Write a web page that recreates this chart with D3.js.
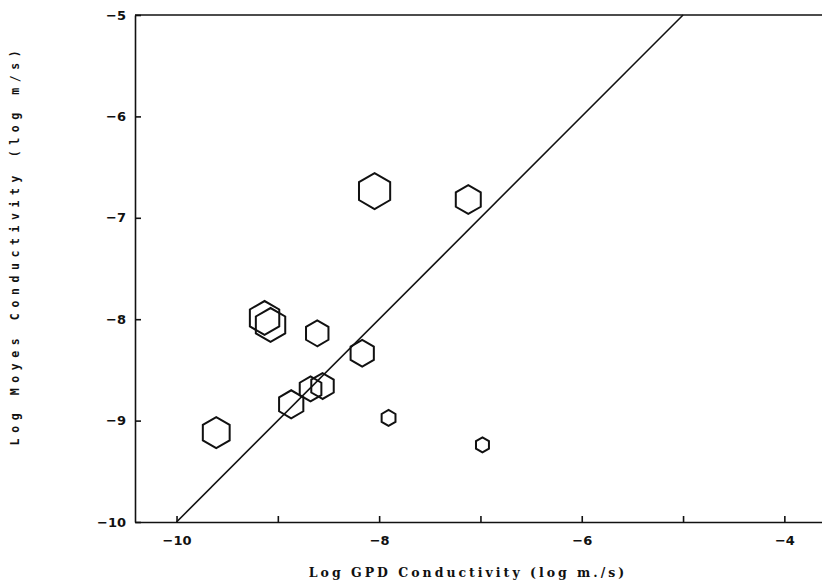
<!DOCTYPE html>
<html>
<head>
<meta charset="utf-8">
<script src="https://cdn.jsdelivr.net/npm/d3@7"></script>
<style>
  body { margin: 0; background: #fff; }
  svg { display: block; }
  .axis text { font-family: "DejaVu Sans", sans-serif; font-weight: bold; font-size: 13px; fill: #111; }
  .axis path, .axis line { stroke: #111; stroke-width: 1.6; }
  .title { font-family: "DejaVu Sans Mono", monospace; font-weight: bold; font-size: 11.5px; fill: #111; }
</style>
</head>
<body>
<svg id="chart" width="822" height="588"></svg>
<script>
// Log GPD conductivity (x) vs log Moyes conductivity (y), hexagon size = weight
const gpd    = [-8.045, -7.12, -9.131, -9.072, -8.611, -8.167, -8.677, -8.559, -8.868, -9.608, -7.907, -6.98];
const moyes  = [-6.736, -6.82, -7.988, -8.057, -8.139, -8.336, -8.688, -8.659, -8.839, -9.119, -8.974, -9.24];
const weight = [81, 52, 72, 72, 42, 45, 39, 42, 49, 60, 16, 14];

const xTicks = [-10, -9, -8, -7, -6, -5, -4];
const yTicks = [-10, -9, -8, -7, -6, -5];
const lineEnds = [-10, -5]; // 1:1 line

const svg = d3.select("#chart");
const plotLeft = 135, plotTop = 15, plotBottom = 522;

const x = d3.scaleLinear().domain([-10.41, -3.5]).range([plotLeft, 835]);
const y = d3.scaleLinear().domain([-10, -5]).range([plotBottom, plotTop]);
const r = d3.scaleSqrt().domain([0, 100]).range([0, 20]);

const fmt = d => (d < 0 ? "\u2212" : "") + Math.abs(d);

// x axis (ticks point inward)
svg.append("g")
  .attr("class", "axis")
  .attr("transform", `translate(0,${plotBottom})`)
  .call(d3.axisBottom(x).tickValues(xTicks).tickSizeInner(-6).tickSizeOuter(0).tickPadding(14)
    .tickFormat(d => d % 2 === 0 ? fmt(d) : ""));

// y axis
svg.append("g")
  .attr("class", "axis")
  .attr("transform", `translate(${plotLeft},0)`)
  .call(d3.axisLeft(y).tickValues(yTicks).tickSizeInner(-6).tickSizeOuter(0).tickPadding(9)
    .tickFormat(fmt));

// top frame line
svg.append("line")
  .attr("x1", plotLeft).attr("x2", 822)
  .attr("y1", plotTop).attr("y2", plotTop)
  .attr("stroke", "#111").attr("stroke-width", 1.6);

// 1:1 line
svg.append("line")
  .attr("x1", x(lineEnds[0])).attr("y1", y(lineEnds[0]))
  .attr("x2", x(lineEnds[1])).attr("y2", y(lineEnds[1]))
  .attr("stroke", "#111").attr("stroke-width", 1.6);

// hexagons, pointy top
function hexPath(rad) {
  const pts = d3.range(6).map(i => {
    const a = Math.PI / 2 + i * Math.PI / 3;
    return [rad * Math.cos(a), rad * Math.sin(a)];
  });
  return "M" + pts.map(p => p.join(",")).join("L") + "Z";
}

svg.append("g")
  .selectAll("path")
  .data(gpd.map((d, i) => ({ x: d, y: moyes[i], w: weight[i] })))
  .enter()
  .append("path")
  .attr("transform", d => `translate(${x(d.x)},${y(d.y)})`)
  .attr("d", d => hexPath(r(d.w)))
  .attr("fill", "none")
  .attr("stroke", "#111")
  .attr("stroke-width", 2);

// axis titles
svg.append("text")
  .attr("class", "title")
  .attr("x", 468).attr("y", 577)
  .attr("text-anchor", "middle")
  .style("letter-spacing", "3px")
  .style("font-family", "'DejaVu Serif', serif")
  .style("font-size", "12.5px")
  .text("Log GPD Conductivity (log m./s)");

svg.append("text")
  .attr("class", "title")
  .attr("transform", "translate(19,245) rotate(-90)")
  .attr("text-anchor", "middle")
  .style("letter-spacing", "5.6px")
  .text("Log Moyes Conductivity (log m/s)");
</script>
</body>
</html>
